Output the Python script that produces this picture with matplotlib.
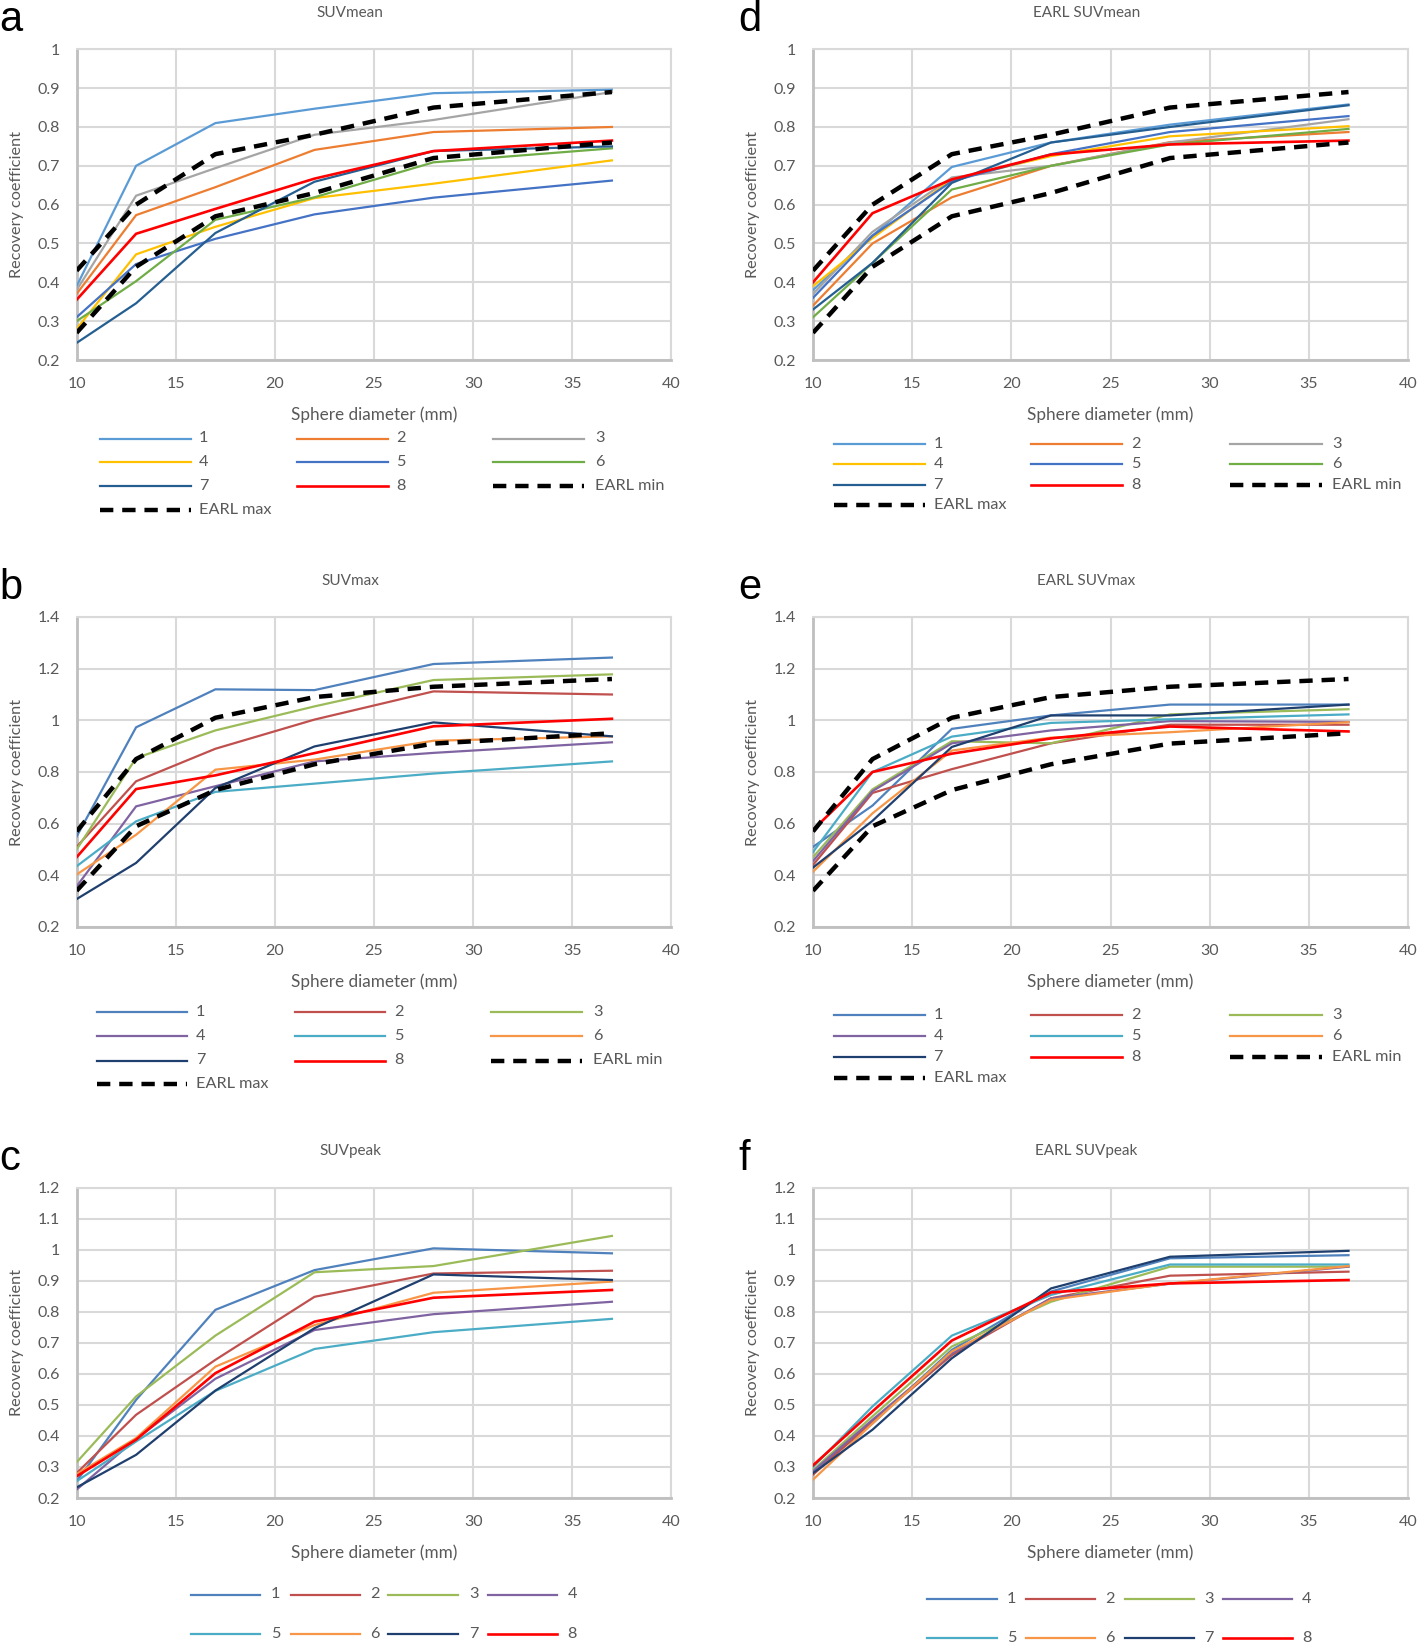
import matplotlib.pyplot as plt
from matplotlib.lines import Line2D

# %% Data
diam = [10, 13, 17, 22, 28, 37]
names = ["1", "2", "3", "4", "5", "6", "7", "8"]

earl_mean_min = [0.27, 0.44, 0.57, 0.63, 0.72, 0.76]
earl_mean_max = [0.43, 0.60, 0.73, 0.78, 0.85, 0.89]
earl_max_min = [0.34, 0.59, 0.73, 0.83, 0.91, 0.95]
earl_max_max = [0.57, 0.85, 1.01, 1.09, 1.13, 1.16]

suvmean = [
    [0.39, 0.70, 0.81, 0.847, 0.887, 0.896],
    [0.37, 0.573, 0.645, 0.741, 0.787, 0.80],
    [0.38, 0.623, 0.694, 0.78, 0.818, 0.89],
    [0.28, 0.472, 0.543, 0.617, 0.654, 0.714],
    [0.31, 0.447, 0.512, 0.575, 0.618, 0.662],
    [0.30, 0.403, 0.561, 0.619, 0.709, 0.745],
    [0.244, 0.346, 0.527, 0.659, 0.738, 0.75],
    [0.355, 0.525, 0.589, 0.667, 0.738, 0.765],
]
earl_suvmean = [
    [0.38, 0.52, 0.697, 0.76, 0.806, 0.858],
    [0.34, 0.50, 0.619, 0.70, 0.761, 0.787],
    [0.37, 0.53, 0.67, 0.70, 0.76, 0.82],
    [0.39, 0.514, 0.665, 0.725, 0.776, 0.802],
    [0.36, 0.52, 0.66, 0.73, 0.787, 0.828],
    [0.31, 0.45, 0.639, 0.70, 0.755, 0.795],
    [0.33, 0.45, 0.656, 0.76, 0.80, 0.856],
    [0.40, 0.578, 0.665, 0.729, 0.755, 0.765],
]
suvmax = [
    [0.55, 0.973, 1.12, 1.117, 1.218, 1.243],
    [0.51, 0.764, 0.89, 1.003, 1.112, 1.10],
    [0.50, 0.854, 0.961, 1.054, 1.156, 1.178],
    [0.357, 0.667, 0.745, 0.841, 0.874, 0.915],
    [0.435, 0.609, 0.723, 0.755, 0.794, 0.841],
    [0.403, 0.557, 0.809, 0.848, 0.921, 0.938],
    [0.308, 0.448, 0.738, 0.899, 0.992, 0.938],
    [0.47, 0.734, 0.787, 0.873, 0.977, 1.006],
]
earl_suvmax = [
    [0.51, 0.67, 0.967, 1.019, 1.061, 1.061],
    [0.44, 0.719, 0.811, 0.911, 0.983, 0.983],
    [0.47, 0.733, 0.919, 0.911, 1.023, 1.043],
    [0.455, 0.726, 0.911, 0.961, 0.997, 0.994],
    [0.49, 0.80, 0.937, 0.99, 1.004, 1.023],
    [0.414, 0.64, 0.883, 0.933, 0.954, 0.993],
    [0.43, 0.611, 0.897, 1.019, 1.019, 1.061],
    [0.576, 0.80, 0.871, 0.93, 0.976, 0.957],
]
suvpeak = [
    [0.254, 0.516, 0.806, 0.934, 1.004, 0.988],
    [0.28, 0.468, 0.645, 0.848, 0.923, 0.932],
    [0.315, 0.527, 0.723, 0.927, 0.947, 1.044],
    [0.227, 0.39, 0.584, 0.741, 0.792, 0.832],
    [0.254, 0.382, 0.545, 0.68, 0.734, 0.777],
    [0.277, 0.393, 0.623, 0.757, 0.861, 0.897],
    [0.234, 0.339, 0.546, 0.747, 0.92, 0.902],
    [0.27, 0.388, 0.602, 0.768, 0.845, 0.87],
]
earl_suvpeak = [
    [0.286, 0.44, 0.677, 0.865, 0.972, 0.982],
    [0.275, 0.447, 0.66, 0.843, 0.916, 0.929],
    [0.29, 0.463, 0.688, 0.832, 0.945, 0.945],
    [0.286, 0.452, 0.666, 0.843, 0.89, 0.945],
    [0.30, 0.495, 0.723, 0.854, 0.952, 0.952],
    [0.259, 0.44, 0.672, 0.838, 0.891, 0.947],
    [0.28, 0.42, 0.65, 0.875, 0.977, 0.996],
    [0.305, 0.479, 0.707, 0.862, 0.891, 0.902],
]

# %% Styles
COLORS_NEW = ["#5B9BD5", "#ED7D31", "#A5A5A5", "#FFC000",
              "#4472C4", "#70AD47", "#255E91", "#FF0000"]
COLORS_OLD = ["#4F81BD", "#C0504D", "#9BBB59", "#8064A2",
              "#4BACC6", "#F79646", "#1F3F6E", "#FF0000"]
TXT = "#595959"
FONT = "Lato"
W, H = 1417, 1645

plt.rcParams["font.family"] = [FONT, "DejaVu Sans"]

fig = plt.figure(figsize=(W / 100, H / 100), dpi=100)


def fx(x):
    return x / W


def fy(y):
    return 1 - y / H


def add_panel(l, t, r, b, series, colors, ylim, ystep, earl=None):
    ax = fig.add_axes([fx(l), fy(b), fx(r - l), (b - t) / H])
    for i, vals in enumerate(series):
        lw = 1.9 if i == 7 else 1.6
        ax.plot(diam, vals, color=colors[i], lw=lw, solid_joinstyle="miter", zorder=3)
    if earl is not None:
        for vals in earl:
            ax.plot(diam, vals, color="black", lw=3.2, dashes=(3, 2), zorder=4)
    ax.set_xlim(10, 40)
    ax.set_ylim(*ylim)
    ax.set_xticks(range(10, 41, 5))
    yt = []
    v = ylim[0]
    while v <= ylim[1] + 1e-9:
        yt.append(round(v, 2))
        v += ystep
    ax.set_yticks(yt)
    ax.set_yticklabels([f"{v:g}" for v in yt])
    ax.grid(True, color="#D9D9D9", lw=1.5)
    ax.set_axisbelow(True)
    for s in ["top", "right"]:
        ax.spines[s].set_color("#D9D9D9")
        ax.spines[s].set_linewidth(1.5)
    for s in ["left", "bottom"]:
        ax.spines[s].set_color("#BFBFBF")
        ax.spines[s].set_linewidth(2.0)
    ax.tick_params(length=0, labelsize=11.5, labelcolor=TXT, pad=12)
    ax.set_ylabel("Recovery coefficient", fontsize=11.7, color=TXT, labelpad=10)
    return ax


def legend_grid(entries, rows_y, line_x, text_x):
    ncol = len(line_x)
    for k, (label, color, lw, dashed) in enumerate(entries):
        r, c = divmod(k, ncol)
        y = fy(rows_y[r])
        ln = Line2D([fx(line_x[c][0]), fx(line_x[c][1])], [y, y],
                    transform=fig.transFigure, color=color, lw=lw)
        if dashed:
            ln.set_dashes((3, 2))
        fig.add_artist(ln)
        fig.text(fx(text_x[c]), y, label, fontsize=11.7, color=TXT,
                 va="center", ha="left")


def entries_for(colors, with_earl):
    ent = [(n, colors[i], 1.9 if i == 7 else 1.6, False) for i, n in enumerate(names)]
    if with_earl:
        ent += [("EARL min", "black", 3.2, True), ("EARL max", "black", 3.2, True)]
    return ent


LX, RX = (76.6, 671.4), (813, 1408)
ROWS = [(49.3, 360), (617, 927), (1187.5, 1498)]

panels = [
    (LX, ROWS[0], suvmean, COLORS_NEW, (0.2, 1.0), 0.1, [earl_mean_min, earl_mean_max], "SUVmean", "a"),
    (LX, ROWS[1], suvmax, COLORS_OLD, (0.2, 1.4), 0.2, [earl_max_min, earl_max_max], "SUVmax", "b"),
    (LX, ROWS[2], suvpeak, COLORS_OLD, (0.2, 1.2), 0.1, None, "SUVpeak", "c"),
    (RX, ROWS[0], earl_suvmean, COLORS_NEW, (0.2, 1.0), 0.1, [earl_mean_min, earl_mean_max], "EARL SUVmean", "d"),
    (RX, ROWS[1], earl_suvmax, COLORS_OLD, (0.2, 1.4), 0.2, [earl_max_min, earl_max_max], "EARL SUVmax", "e"),
    (RX, ROWS[2], earl_suvpeak, COLORS_OLD, (0.2, 1.2), 0.1, None, "EARL SUVpeak", "f"),
]

for (l, r), (t, b), data, cols, ylim, ystep, earl, title, letter in panels:
    ax = add_panel(l, t, r, b, data, cols, ylim, ystep, earl)
    xc = (l + r) / 2
    fig.text(fx(xc - 24), fy(t - 36), title, fontsize=11, color=TXT, ha="center", va="center")
    fig.text(fx(xc), fy(b + 55), "Sphere diameter (mm)", fontsize=12.3, color=TXT,
             ha="center", va="center")
    fig.text(fx(l - 77 if l < 100 else l - 75), fy(t - 18), letter, fontsize=30,
             family="Liberation Sans", color="black", ha="left", va="baseline")

# %% Legends
lx_left = [(99.7, 191), (297, 388), (493, 584)]
tx_left = [199, 396.5, 595]
lx_right = [(834, 925), (1031, 1122), (1230, 1322)]
tx_right = [933.6, 1131, 1332]

legend_grid(entries_for(COLORS_NEW, True), [438.5, 461.6, 485.7, 509.8], lx_left, tx_left)
legend_grid(entries_for(COLORS_NEW, True), [443.7, 463.7, 484.6, 504.6], lx_right, tx_right)
legend_grid(entries_for(COLORS_OLD, True), [1012, 1036, 1060.5, 1083.6],
            [(96.5, 186.7), (294.8, 385), (491, 582)], [196, 394, 593])
legend_grid(entries_for(COLORS_OLD, True), [1015.4, 1036.4, 1057.4, 1078.4], lx_right, tx_right)
legend_grid(entries_for(COLORS_OLD, False), [1594.5, 1634.3],
            [(191, 260), (290.6, 360), (388, 458), (488, 557)], [270.6, 370, 469, 567.5])
legend_grid(entries_for(COLORS_OLD, False), [1598.7, 1637.5],
            [(927, 996.6), (1026, 1095), (1124.5, 1193.8), (1223, 1292)], [1007, 1105.6, 1204, 1302])

fig.savefig("out.png", dpi=100)
